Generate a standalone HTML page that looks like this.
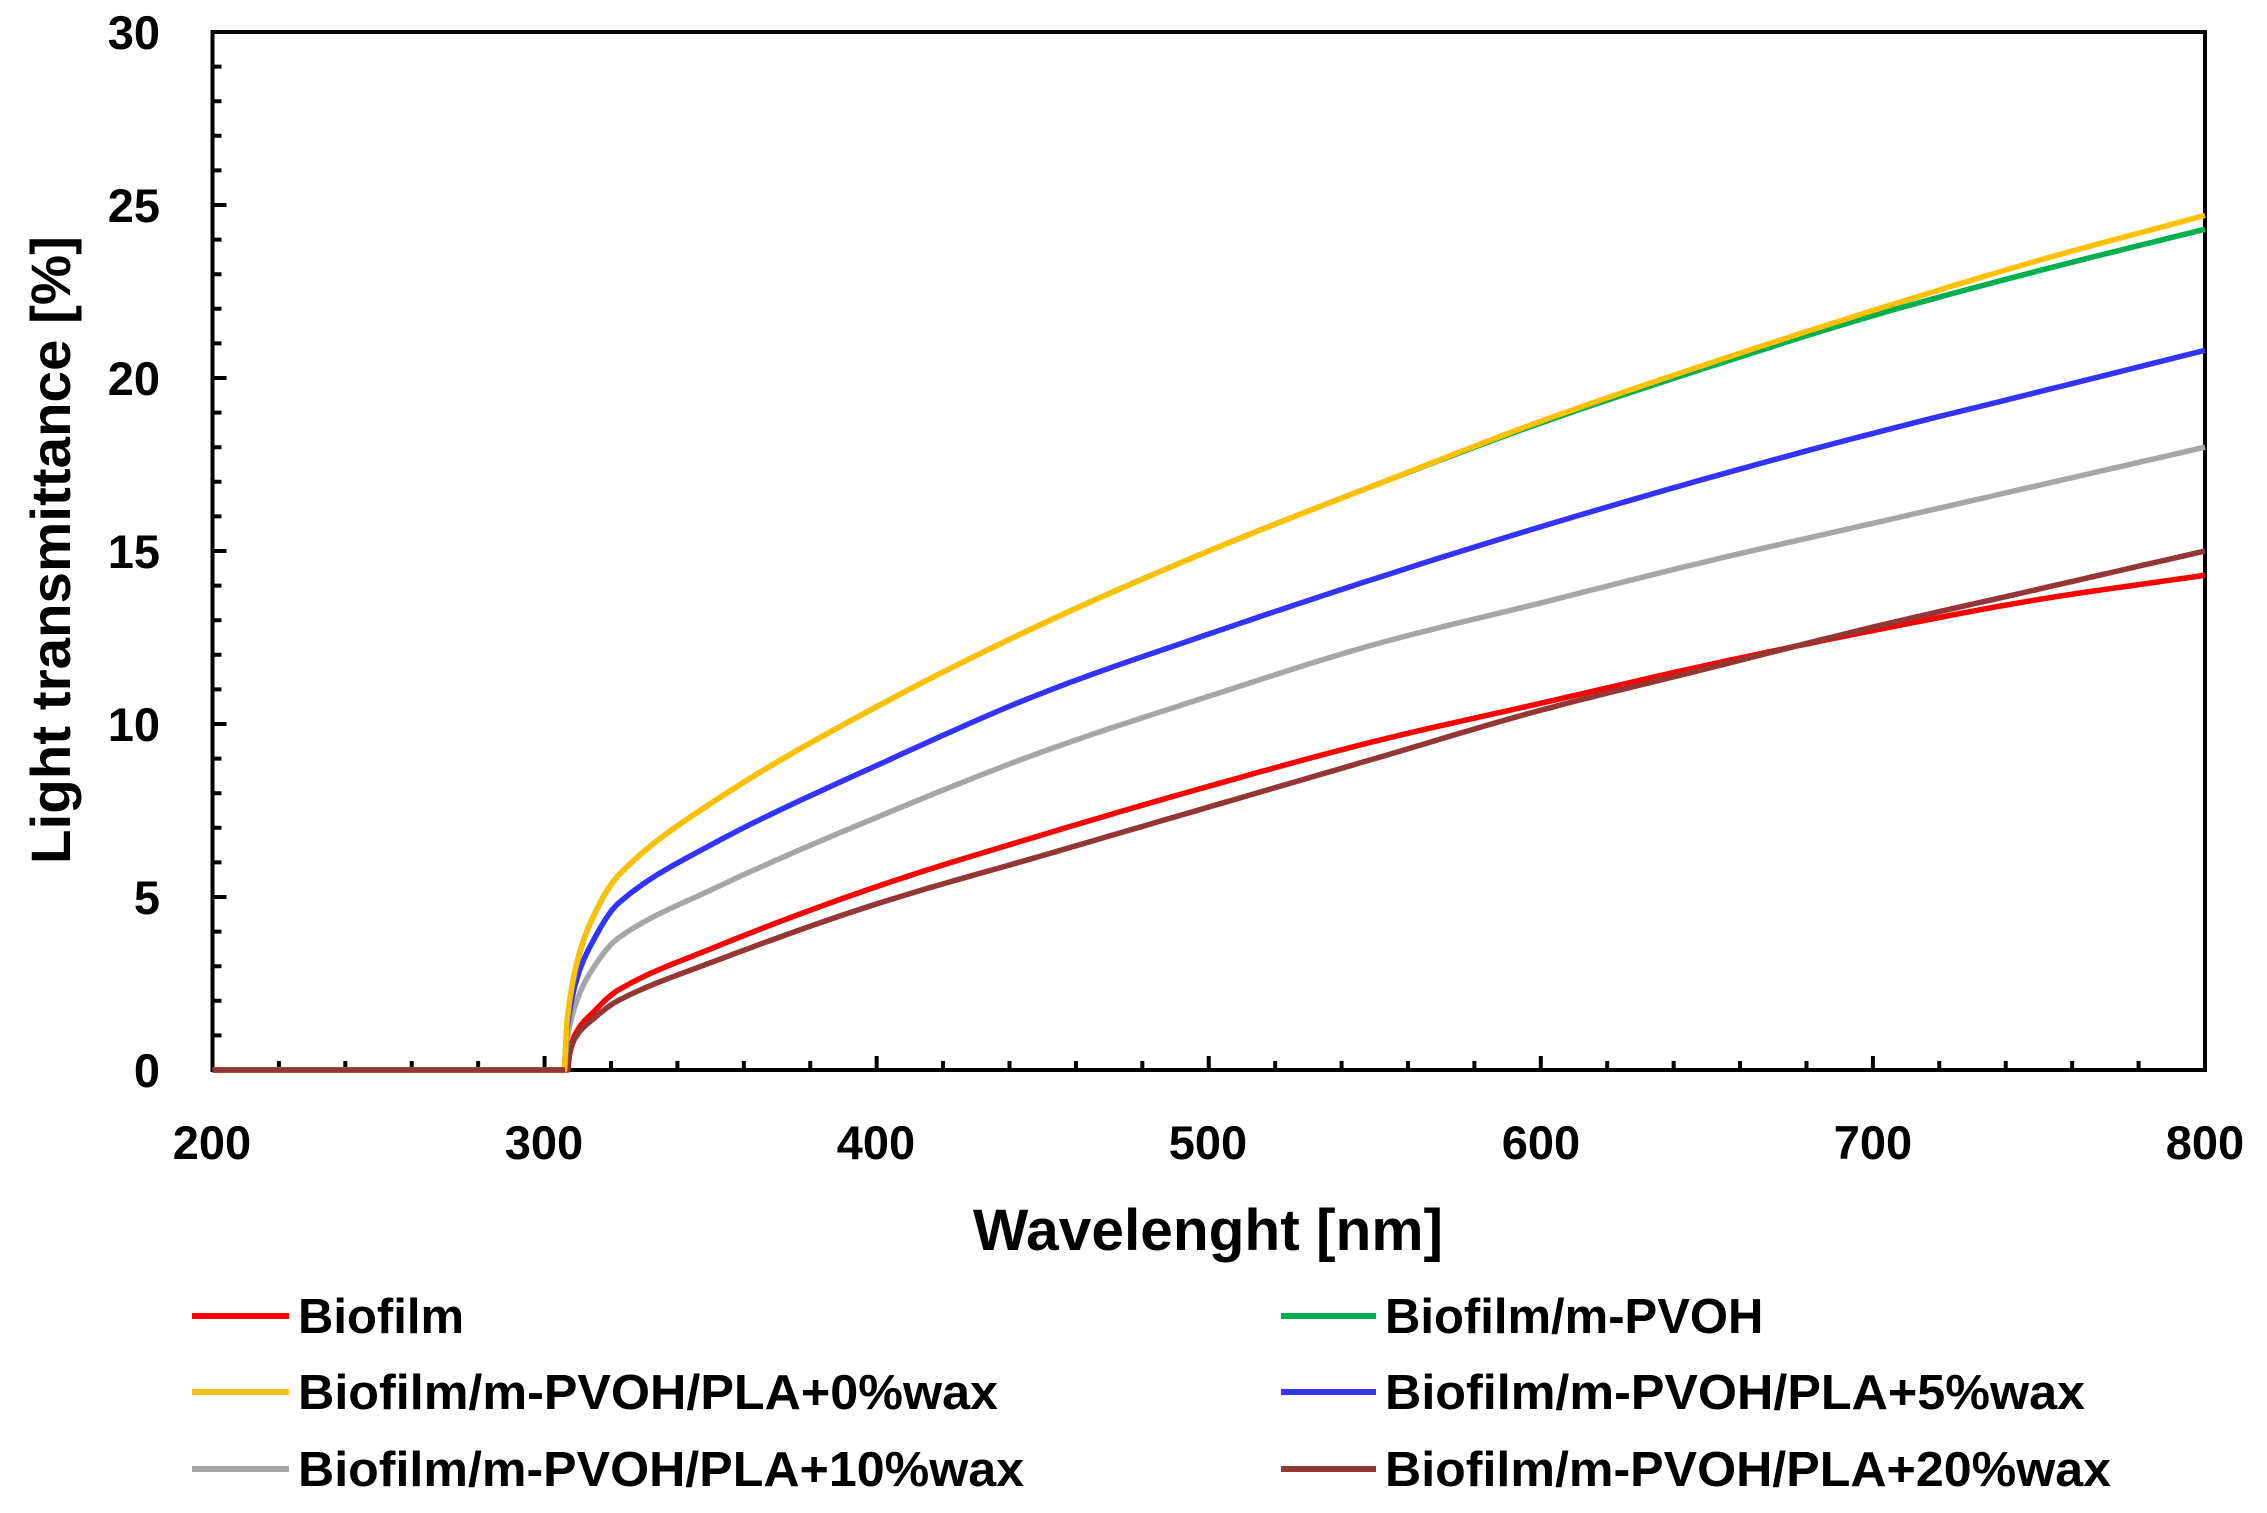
<!DOCTYPE html><html><head><style>body{margin:0;background:#fff}svg{display:block}text{font-family:"Liberation Sans",Arial,sans-serif;font-weight:bold;fill:#000}</style></head><body>
<svg id="s" width="2267" height="1513" viewBox="0 0 2267 1513" xmlns="http://www.w3.org/2000/svg">
<rect x="212.5" y="32" width="1992.5" height="1038" fill="none" stroke="#000" stroke-width="4"/>
<g id="ticks" stroke="#000" stroke-width="4"></g>
<g id="curves" fill="none" stroke-width="5.5" stroke-linejoin="round"></g>
<line x1="212.5" y1="1070" x2="565" y2="1070" stroke="#943634" stroke-width="5.5"/>
<g font-size="47" text-anchor="end">
<text x="160" y="1087">0</text><text x="160" y="914">5</text><text x="160" y="741">10</text><text x="160" y="568">15</text><text x="160" y="395">20</text><text x="160" y="222">25</text><text x="160" y="49">30</text></g>
<g font-size="47" text-anchor="middle">
<text x="212" y="1159">200</text><text x="544" y="1159">300</text><text x="876" y="1159">400</text><text x="1208" y="1159">500</text><text x="1541" y="1159">600</text><text x="1873" y="1159">700</text><text x="2205" y="1159">800</text></g>
<text x="1208" y="1250" font-size="58" text-anchor="middle" textLength="470" lengthAdjust="spacingAndGlyphs">Wavelenght [nm]</text>
<text transform="translate(70,550) rotate(-90)" font-size="56" text-anchor="middle" textLength="628" lengthAdjust="spacingAndGlyphs">Light transmittance [%]</text>
<g stroke-width="6">
<line x1="192" y1="1316" x2="289" y2="1316" stroke="#ff0000"/>
<line x1="1281" y1="1316" x2="1376" y2="1316" stroke="#00b050"/>
<line x1="192" y1="1392" x2="289" y2="1392" stroke="#ffc000"/>
<line x1="1281" y1="1392" x2="1376" y2="1392" stroke="#3333ff"/>
<line x1="192" y1="1469" x2="289" y2="1469" stroke="#a6a6a6"/>
<line x1="1281" y1="1469" x2="1376" y2="1469" stroke="#943634"/></g>
<g font-size="49">
<text x="298" y="1333">Biofilm</text><text x="1385" y="1333">Biofilm/m-PVOH</text>
<text x="298" y="1409" textLength="700" lengthAdjust="spacingAndGlyphs">Biofilm/m-PVOH/PLA+0%wax</text><text x="1385" y="1409" textLength="700" lengthAdjust="spacingAndGlyphs">Biofilm/m-PVOH/PLA+5%wax</text>
<text x="298" y="1486" textLength="726" lengthAdjust="spacingAndGlyphs">Biofilm/m-PVOH/PLA+10%wax</text><text x="1385" y="1486" textLength="726" lengthAdjust="spacingAndGlyphs">Biofilm/m-PVOH/PLA+20%wax</text></g>
</svg>
<script>
var NS="http://www.w3.org/2000/svg";
function X(w){return 212.5+(w-200)*3.3208}
function Y(v){return 1070-v*34.6}
var t=document.getElementById("ticks"),d="";
for(var i=1;i<30;i++){var L=i%5==0?14:9;d+="M212.5 "+Y(i)+"h"+L+" ";}
for(var w=220;w<800;w+=20){var L=(w%100==0)?14:9;d+="M"+X(w)+" 1070v-"+L+" ";}
var p=document.createElementNS(NS,"path");p.setAttribute("d",d);t.appendChild(p);
var S=[
["#ff0000",307,[1.0,1.7,2.3,3.5,5.3,6.8,8.2,9.5,10.6,11.7,12.7,13.6,14.3]],
["#943634",307,[0.9,1.5,2.0,3.1,4.8,6.2,7.6,9.0,10.4,11.6,12.8,13.9,15]],
["#a6a6a6",306,[1.8,3.0,3.8,5.2,7.3,9.2,10.8,12.3,13.5,14.7,15.8,16.9,18]],
["#3333ff",306,[2.4,3.8,4.8,6.5,8.8,10.9,12.6,14.2,15.7,17.1,18.4,19.6,20.8]],
["#00b050",306,[2.8,4.5,5.6,7.7,10.5,12.9,15,16.9,18.7,20.3,21.8,23.1,24.3]],
["#ffc000",306,[2.8,4.5,5.6,7.7,10.5,12.9,15,16.9,18.75,20.4,21.95,23.4,24.7]]];
var W=[309,315,322,350,400,450,500,550,600,650,700,750,800];
var g=document.getElementById("curves");
S.forEach(function(s){var pts=[[200,0],[s[1],0]];for(var i=0;i<W.length;i++)pts.push([W[i],s[2][i]]);
var n=pts.length,m=[],dd=[];
for(var i=0;i<n-1;i++)dd.push((pts[i+1][1]-pts[i][1])/(pts[i+1][0]-pts[i][0]));
for(var i=0;i<n;i++){if(i==0)m.push(dd[0]);else if(i==n-1)m.push(dd[n-2]);else m.push(dd[i-1]*dd[i]<=0?0:2/(1/dd[i-1]+1/dd[i]));}
m[1]=dd[1]*1.5;
var d="M"+X(200)+" "+Y(0)+" L"+X(s[1])+" "+Y(0);
for(var i=1;i<n-1;i++){var x0=pts[i][0],x1=pts[i+1][0],y0=pts[i][1],y1=pts[i+1][1],h=x1-x0;
var steps=Math.max(4,Math.round(h/4));
for(var k=1;k<=steps;k++){var u=k/steps,h00=2*u*u*u-3*u*u+1,h10=u*u*u-2*u*u+u,h01=-2*u*u*u+3*u*u,h11=u*u*u-u*u;
var yy=h00*y0+h10*h*m[i]+h01*y1+h11*h*m[i+1];if(i==1)yy=y0+(y1-y0)*Math.sqrt(u);
d+=" L"+X(x0+u*h).toFixed(1)+" "+Y(yy).toFixed(1);}}
var e=document.createElementNS(NS,"path");e.setAttribute("d",d);e.setAttribute("stroke",s[0]);g.appendChild(e);});
</script>
</body></html>
